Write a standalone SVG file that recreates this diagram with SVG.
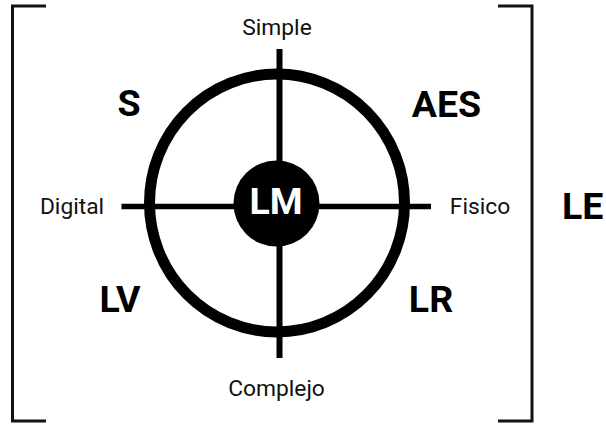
<svg xmlns="http://www.w3.org/2000/svg" width="606" height="426" viewBox="0 0 606 426">
  <style>
    .br { fill: none; stroke: #111; stroke-width: 3; }
    .ax { stroke: #000; fill: none; }
    .lbl { font-family: Roboto, "Liberation Sans", sans-serif; font-size: 22.8px; fill: #111; text-anchor: middle; }
    .big { font-family: Roboto, "Liberation Sans", sans-serif; font-size: 37.5px; font-weight: bold; fill: #000; text-anchor: middle; }
  </style>
  <rect width="606" height="426" fill="#fff"/>
  <g id="bracket-left"><path class="br" d="M46,6 H12.5 V421 H46"/></g>
  <g id="bracket-right"><path class="br" d="M498,6 H532 V421 H498"/></g>
  <g id="outer-ring"><ellipse cx="277" cy="203" rx="127.5" ry="129" fill="none" stroke="#000" stroke-width="11"/></g>
  <g id="connectors">
    <line class="ax" x1="121.5" y1="206.5" x2="431" y2="206.5" stroke-width="5.5"/>
    <line class="ax" x1="279.5" y1="49" x2="279.5" y2="358" stroke-width="6"/>
  </g>
  <g id="LM">
    <circle cx="276.5" cy="203.5" r="43" fill="#000"/>
    <text class="big" x="276" y="213.5" style="fill:#fff">LM</text>
  </g>
  <g id="Simple"><text class="lbl" x="277" y="35">Simple</text></g>
  <g id="Complejo"><text class="lbl" x="276.5" y="395.5">Complejo</text></g>
  <g id="Digital"><text class="lbl" x="72" y="213.5">Digital</text></g>
  <g id="Fisico"><text class="lbl" x="480" y="213.5">Fisico</text></g>
  <g id="S"><text class="big" x="129" y="116">S</text></g>
  <g id="AES"><text class="big" x="446.5" y="116.5">AES</text></g>
  <g id="LV"><text class="big" x="120" y="311.5">LV</text></g>
  <g id="LR"><text class="big" x="431" y="311.5">LR</text></g>
  <g id="LE"><text class="big" x="562" y="218.5" style="text-anchor:start">LE</text></g>
</svg>
